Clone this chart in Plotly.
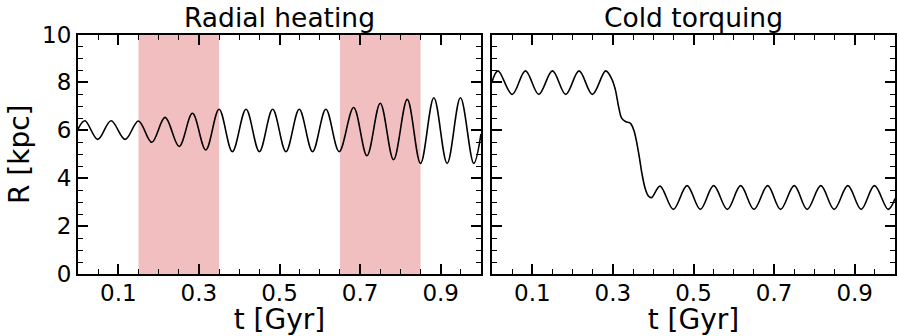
import plotly.graph_objects as go

# ---- data ----
panel_titles = ["Radial heating", "Cold torquing"]
x_label = "t [Gyr]"
y_label = "R [kpc]"

x_tick_vals = [0.1, 0.3, 0.5, 0.7, 0.9]
x_tick_text = ["0.1", "0.3", "0.5", "0.7", "0.9"]
y_tick_vals = [0, 2, 4, 6, 8, 10]
y_tick_text = ["0", "2", "4", "6", "8", "10"]

shade_starts = [0.15, 0.65]
shade_ends = [0.35, 0.85]

t_left = [0.0, 0.017, 0.049, 0.082, 0.117, 0.150, 0.183, 0.216, 0.251, 0.284,
          0.317, 0.350, 0.383, 0.417, 0.450, 0.483, 0.516, 0.549, 0.582, 0.615,
          0.648, 0.684, 0.717, 0.750, 0.783, 0.817, 0.850, 0.883, 0.916, 0.949,
          0.982, 1.0]
R_left = [6.05, 6.40, 5.62, 6.40, 5.62, 6.39, 5.50, 6.54, 5.33, 6.71,
          5.18, 6.88, 5.11, 6.88, 5.11, 6.88, 5.11, 6.88, 5.11, 6.88,
          5.11, 6.95, 4.94, 7.13, 4.77, 7.29, 4.62, 7.36, 4.62, 7.36,
          4.62, 5.85]

t_right = [0.0, 0.015, 0.050, 0.083, 0.116, 0.150, 0.183, 0.216, 0.249, 0.282,
           0.297, 0.306, 0.314, 0.322, 0.332, 0.343, 0.352, 0.364, 0.372, 0.380,
           0.388, 0.396, 0.417, 0.450, 0.484, 0.517, 0.550, 0.584, 0.617, 0.650,
           0.684, 0.716, 0.750, 0.782, 0.816, 0.849, 0.883, 0.916, 0.949, 0.983,
           1.0]
R_right = [8.03, 8.48, 7.50, 8.48, 7.50, 8.48, 7.50, 8.48, 7.50, 8.48,
           8.15, 7.70, 7.00, 6.50, 6.36, 6.30, 6.00, 5.04, 4.20, 3.58,
           3.26, 3.19, 3.67, 2.70, 3.69, 2.70, 3.69, 2.70, 3.69, 2.70,
           3.69, 2.70, 3.69, 2.70, 3.69, 2.70, 3.69, 2.70, 3.69, 2.70,
           3.15]

FONT = "DejaVu Sans"
SHADE = "#f1bfbf"

W, H = 899, 336


def px_x(v):
    return v / W


def px_y(v):
    return 1 - v / H


fig = go.Figure()
fig.add_trace(go.Scatter(x=t_left, y=R_left, mode="lines", xaxis="x", yaxis="y",
                         line=dict(color="black", width=1.6, shape="spline", smoothing=1.0),
                         showlegend=False, hoverinfo="skip"))
fig.add_trace(go.Scatter(x=t_right, y=R_right, mode="lines", xaxis="x2", yaxis="y2",
                         line=dict(color="black", width=1.6, shape="spline", smoothing=1.0),
                         showlegend=False, hoverinfo="skip"))

for s, e in zip(shade_starts, shade_ends):
    fig.add_shape(type="rect", xref="x", yref="y domain", x0=s, x1=e, y0=0, y1=1,
                  fillcolor=SHADE, line=dict(width=0), layer="below")

common_x = dict(
    range=[0, 1], tickmode="array", tickvals=x_tick_vals, ticktext=x_tick_text,
    ticks="inside", ticklen=10, tickwidth=1.6, tickcolor="black",
    minor=dict(dtick=0.05, tick0=0, ticks="inside", ticklen=5, tickwidth=1.3, tickcolor="black"),
    showline=True, linecolor="black", linewidth=2, mirror="ticks",
    showgrid=False, zeroline=False, automargin=False, ticklabelstandoff=-3,
    tickfont=dict(family=FONT, size=23, color="black"),
    title=dict(text=x_label, font=dict(family=FONT, size=28, color="black"), standoff=12),
)
common_y = dict(
    range=[0, 10], tickmode="array", tickvals=y_tick_vals, ticktext=y_tick_text,
    ticks="inside", ticklen=10, tickwidth=1.6, tickcolor="black",
    minor=dict(dtick=0.5, tick0=0, ticks="inside", ticklen=5, tickwidth=1.3, tickcolor="black"),
    showline=True, linecolor="black", linewidth=2, mirror="ticks",
    showgrid=False, zeroline=False, automargin=False,
    tickfont=dict(family=FONT, size=23, color="black"),
    domain=[px_y(274), px_y(34.5)],
)

fig.update_layout(
    width=W, height=H,
    margin=dict(l=0, r=0, t=0, b=0, autoexpand=False),
    paper_bgcolor="white", plot_bgcolor="white",
    xaxis=dict(common_x, domain=[px_x(78), px_x(481)], anchor="y"),
    xaxis2=dict(common_x, domain=[px_x(492), px_x(895)], anchor="y2"),
    yaxis=dict(common_y, anchor="x",
               title=dict(text=y_label, font=dict(family=FONT, size=28, color="black"), standoff=4)),
    yaxis2=dict(common_y, anchor="x2", showticklabels=False),
)

for i, title in enumerate(panel_titles):
    fig.add_annotation(text=title, xref=("x domain" if i == 0 else "x2 domain"),
                       yref="y domain", x=0.5, y=1, xanchor="center", yanchor="bottom",
                       yshift=0, borderpad=0, showarrow=False,
                       font=dict(family=FONT, size=26.5, color="black"))

# remove the browser's default 8px body margin so the figure fills the window
fig.write_html("out.html", config={"displayModeBar": False},
               post_script="document.body.style.margin='0';document.body.style.overflow='hidden';")
